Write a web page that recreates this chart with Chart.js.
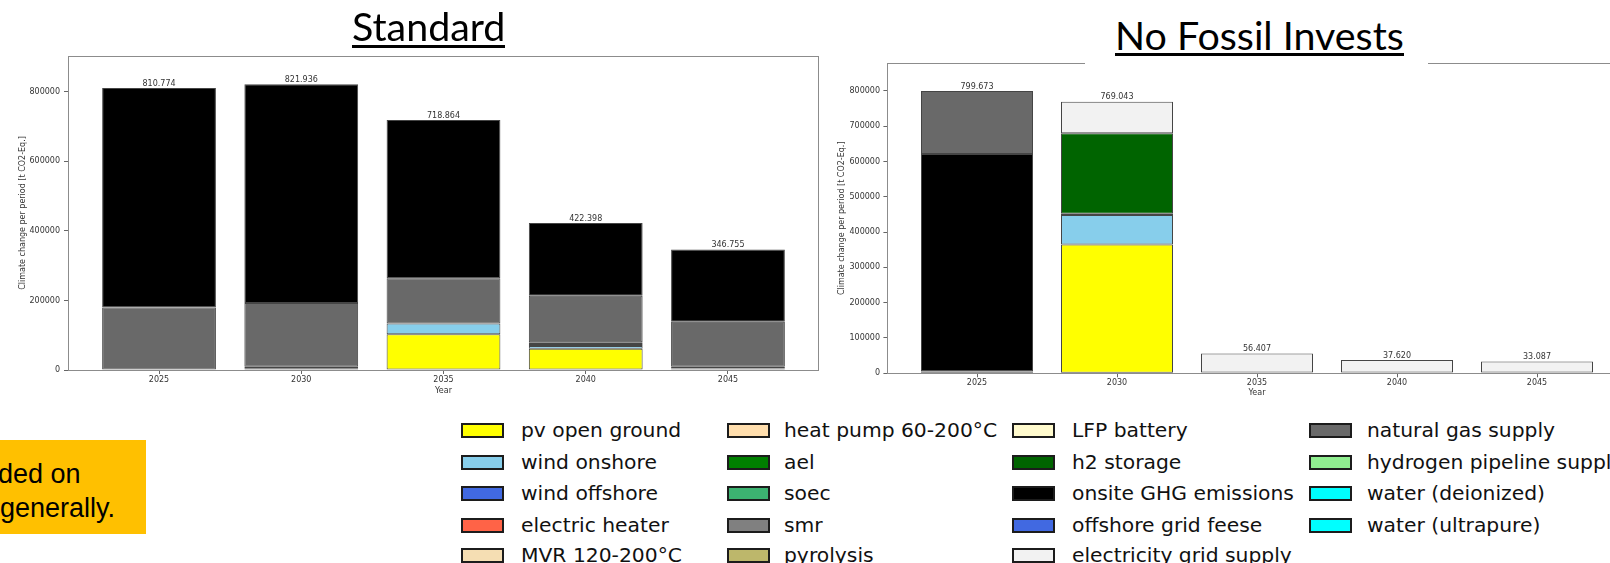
<!DOCTYPE html>
<html>
<head>
<meta charset="utf-8">
<script src="https://cdn.jsdelivr.net/npm/chart.js@4.4.1/dist/chart.umd.min.js"></script>
<style>
  html, body { margin: 0; padding: 0; background: #fff; }
  body { width: 1610px; height: 563px; overflow: hidden; position: relative; font-family: 'DejaVu Sans', sans-serif; }
  canvas { position: absolute; }
  #cStd { left: 0; top: 0; }
  #cNf { left: 800px; top: 0; }
  .mask { position: absolute; background: #fff; }
  .slide-title { position: absolute; font-family: Lato, sans-serif; font-size: 39.4px; line-height: 39.4px; color: #000; white-space: nowrap; }
  .rule { position: absolute; background: #000; }
  .note { position: absolute; left: -10px; top: 439.5px; width: 155.5px; height: 94.5px; background: #FFC000; overflow: hidden; }
  .note span { position: absolute; font-family: 'Liberation Sans', Arial, sans-serif; font-size: 27px; line-height: 32px; color: #000; white-space: nowrap; }
  .lg-box { position: absolute; width: 43px; height: 15px; box-sizing: border-box; border: 2px solid #1c1c1c; }
  .lg-text { position: absolute; font-family: 'DejaVu Sans', sans-serif; font-size: 20.3px; line-height: 24px; color: #111; white-space: nowrap; }
</style>
</head>
<body>
<canvas id="cStd" width="830" height="400"></canvas>
<canvas id="cNf" width="840" height="400"></canvas>

<div id="tStd" class="slide-title" style="left:352px; top:5.8px;">Standard</div>
<div id="uStd" class="rule" style="left:352px; top:45.3px; width:154px; height:2.7px;"></div>

<div class="mask" style="left:1085px; top:8px; width:343px; height:58px;"></div>
<div id="tNf" class="slide-title" style="left:1115px; top:15.1px;">No Fossil Invests</div>
<div id="uNf" class="rule" style="left:1115px; top:53px; width:284px; height:3px;"></div>

<div class="note">
  <span style="right:65px; top:18px;">ded on</span>
  <span style="left:10px; top:52px;">generally.</span>
</div>

<div id="legend"></div>

<script>
// Periods on the x axis
const YEARS = [2025, 2030, 2035, 2040, 2045];

// Technologies / supplies, in legend order
const SERIES_NAMES = [
  'pv open ground', 'wind onshore', 'wind offshore', 'electric heater', 'MVR 120-200°C',
  'heat pump 60-200°C', 'ael', 'soec', 'smr', 'pyrolysis',
  'LFP battery', 'h2 storage', 'onsite GHG emissions', 'offshore grid feese', 'electricity grid supply',
  'natural gas supply', 'hydrogen pipeline supply', 'water (deionized)', 'water (ultrapure)'
];
const SERIES_COLORS = [
  '#FFFF00', '#87CEEB', '#4169E1', '#FF6347', '#F5DEB3',
  '#FFDEAD', '#008000', '#3CB371', '#808080', '#BDB76B',
  '#FFFACD', '#006400', '#000000', '#4169E1', '#F2F2F2',
  '#696969', '#90EE90', '#00FFFF', '#00FFFF'
];

// Standard scenario, t CO2-Eq. per period
const STD_PV_OPEN_GROUND   = [0, 5000, 103000, 61000, 4000];
const STD_WIND_ONSHORE     = [0, 0, 31000, 8000, 0];
const STD_SMR              = [0, 4000, 0, 6000, 5000];
const STD_ELECTRICITY_GRID = [0, 0, 0, 5000, 0];
const STD_NATURAL_GAS      = [180000, 184000, 129500, 133500, 130000];
const STD_ONSITE_GHG       = [630774, 628936, 455364, 208898, 207755];

// No Fossil Invests scenario, t CO2-Eq. per period
const NF_PV_OPEN_GROUND    = [5000, 365000, 2000, 2000, 2000];
const NF_WIND_ONSHORE      = [0, 83000, 0, 0, 0];
const NF_WIND_OFFSHORE     = [0, 4000, 0, 0, 0];
const NF_H2_STORAGE        = [0, 228000, 0, 0, 0];
const NF_ONSITE_GHG        = [616000, 0, 0, 0, 0];
const NF_ELECTRICITY_GRID  = [0, 89043, 54407, 35620, 31087];
const NF_NATURAL_GAS       = [178673, 0, 0, 0, 0];

// Axis ticks
const STD_Y_TICKS = [0, 200000, 400000, 600000, 800000];
const NF_Y_TICKS  = [0, 100000, 200000, 300000, 400000, 500000, 600000, 700000, 800000];

// Stacking, bottom to top
const STD_LAYERS = [
  ['pv open ground', STD_PV_OPEN_GROUND],
  ['wind onshore', STD_WIND_ONSHORE],
  ['smr', STD_SMR],
  ['electricity grid supply', STD_ELECTRICITY_GRID],
  ['natural gas supply', STD_NATURAL_GAS],
  ['onsite GHG emissions', STD_ONSITE_GHG]
];
const NF_LAYERS = [
  ['pv open ground', NF_PV_OPEN_GROUND],
  ['wind onshore', NF_WIND_ONSHORE],
  ['wind offshore', NF_WIND_OFFSHORE],
  ['h2 storage', NF_H2_STORAGE],
  ['onsite GHG emissions', NF_ONSITE_GHG],
  ['electricity grid supply', NF_ELECTRICITY_GRID],
  ['natural gas supply', NF_NATURAL_GAS]
];

const colorOf = name => SERIES_COLORS[SERIES_NAMES.indexOf(name)];

function makeDatasets(layers) {
  return layers.map(([name, vals]) => ({
    label: name,
    data: YEARS.map((yr, i) => ({ x: yr, y: vals[i] ? vals[i] : null })),
    backgroundColor: colorOf(name),
    borderColor: '#454545',
    borderWidth: 1,
    borderSkipped: false,
    stack: 'total'
  }));
}

// Axes box (all four spines)
const frame = {
  id: 'frame',
  afterDatasetsDraw(chart) {
    const { ctx, chartArea: a } = chart;
    ctx.save();
    ctx.strokeStyle = '#8c8c8c';
    ctx.lineWidth = 1;
    ctx.strokeRect(Math.round(a.left) + 0.5, Math.round(a.top) + 0.5,
                   Math.round(a.right - a.left) - 1, Math.round(a.bottom - a.top));
    ctx.restore();
  }
};

// Period totals in kt above each stack
const totals = {
  id: 'totals',
  afterDatasetsDraw(chart) {
    const { ctx, scales: { x, y } } = chart;
    ctx.save();
    ctx.font = '8px "DejaVu Sans"';
    ctx.fillStyle = '#333';
    ctx.textAlign = 'center';
    ctx.textBaseline = 'bottom';
    YEARS.forEach((yr, i) => {
      const total = chart.data.datasets.reduce((s, d) => s + (d.data[i].y || 0), 0);
      ctx.fillText((total / 1000).toFixed(3), x.getPixelForValue(yr), y.getPixelForValue(total) - 0.5);
    });
    ctx.restore();
  }
};

function buildChart(id, layers, yTicks, o) {
  const tickFont = { family: 'DejaVu Sans', size: 8 };
  return new Chart(document.getElementById(id), {
    type: 'bar',
    data: { datasets: makeDatasets(layers) },
    options: {
      responsive: false,
      animation: false,
      devicePixelRatio: 1,
      layout: { padding: { left: 0, top: o.top, right: o.right, bottom: 0 } },
      datasets: { bar: { barPercentage: 0.8, categoryPercentage: 1 } },
      plugins: { legend: { display: false }, tooltip: { enabled: false }, title: { display: false } },
      scales: {
        x: {
          type: 'linear', stacked: true, offset: false,
          min: YEARS[0] - 3.2, max: YEARS[YEARS.length - 1] + 3.2,
          afterBuildTicks: s => { s.ticks = YEARS.map(v => ({ value: v })); },
          afterFit: s => { s.height = o.xHeight; },
          ticks: { callback: v => String(v), font: tickFont, color: '#333', padding: o.xPad, maxRotation: 0, autoSkip: false },
          grid: { offset: false, drawOnChartArea: false, drawTicks: true, tickLength: 4, tickColor: '#666' },
          border: { display: false },
          title: { display: true, text: 'Year', font: tickFont, color: '#333', padding: { top: 0, bottom: o.xTitlePad } }
        },
        y: {
          type: 'linear', stacked: true, min: 0, max: o.yMax,
          afterBuildTicks: s => { s.ticks = yTicks.map(v => ({ value: v })); },
          afterFit: s => { s.width = o.yWidth; },
          ticks: { callback: v => String(v), font: tickFont, color: '#333', padding: o.yPad },
          grid: { drawOnChartArea: false, drawTicks: true, tickLength: 4, tickColor: '#666' },
          border: { display: false },
          title: { display: true, text: 'Climate change per period [t CO2-Eq.]', font: tickFont, color: '#333', padding: { top: o.yTitlePad, bottom: 0 } }
        }
      }
    },
    plugins: [frame, totals]
  });
}

buildChart('cStd', STD_LAYERS, STD_Y_TICKS,
  { top: 56, right: 11, xHeight: 30, yWidth: 68, yMax: 903000, xPad: 1.5, yPad: 4, xTitlePad: 4.5, yTitlePad: 17.9 });
buildChart('cNf', NF_LAYERS, NF_Y_TICKS,
  { top: 63.3, right: 13.4, xHeight: 26.7, yWidth: 87.4, yMax: 878000, xPad: 1, yPad: 3.4, xTitlePad: 2.2, yTitlePad: 37.5 });

// Underlines follow the rendered title widths
[['tStd', 'uStd'], ['tNf', 'uNf']].forEach(([t, u]) => {
  document.getElementById(u).style.width = document.getElementById(t).getBoundingClientRect().width + 'px';
});

// Shared legend, five entries per column
const LEGEND_BOX_X  = [461, 727, 1012, 1309];
const LEGEND_TEXT_X = [521, 784, 1072, 1367];
const LEGEND_ROW_Y  = [430, 462, 493, 525, 555];
const legend = document.getElementById('legend');
SERIES_NAMES.forEach((name, i) => {
  const col = Math.floor(i / 5), row = i % 5;
  const box = document.createElement('div');
  box.className = 'lg-box';
  box.style.left = LEGEND_BOX_X[col] + 'px';
  box.style.top = (LEGEND_ROW_Y[row] - 7.5) + 'px';
  box.style.background = SERIES_COLORS[i];
  const txt = document.createElement('div');
  txt.className = 'lg-text';
  txt.style.left = LEGEND_TEXT_X[col] + 'px';
  txt.style.top = (LEGEND_ROW_Y[row] - 12) + 'px';
  txt.textContent = name;
  legend.appendChild(box);
  legend.appendChild(txt);
});
</script>
</body>
</html>
